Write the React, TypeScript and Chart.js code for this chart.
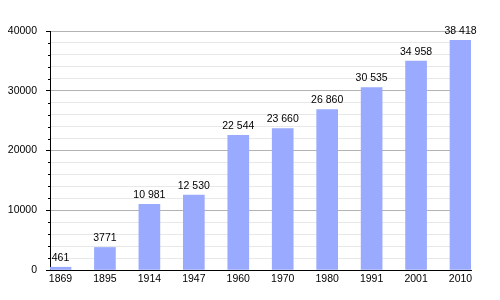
import React, { useEffect, useRef } from "react";
import { Chart, registerables } from "chart.js";

Chart.register(...registerables);

const years = ["1869", "1895", "1914", "1947", "1960", "1970", "1980", "1991", "2001", "2010"];
const population = [461, 3771, 10981, 12530, 22544, 23660, 26860, 30535, 34958, 38418];
const valueLabels = ["461", "3771", "10 981", "12 530", "22 544", "23 660", "26 860", "30 535", "34 958", "38 418"];
const yTicks = [0, 10000, 20000, 30000, 40000];

const FONT = "'Liberation Sans', Arial, sans-serif";

const labelPlugin = {
  id: "valueLabels",
  afterDatasetsDraw(chart: any) {
    const ctx = chart.ctx;
    const meta = chart.getDatasetMeta(0);
    ctx.save();
    ctx.font = `10.5px ${FONT}`;
    ctx.fillStyle = "#000";
    ctx.textAlign = "center";
    ctx.textBaseline = "bottom";
    meta.data.forEach((bar: any, i: number) => {
      ctx.fillText(valueLabels[i], bar.x, bar.y - 4);
    });
    const y = chart.scales.y;
    ctx.strokeStyle = "#000";
    ctx.lineWidth = 1;
    for (let v = 0; v <= 40000; v += 2000) {
      if (v % 10000 === 0) continue;
      const py = Math.round(y.getPixelForValue(v)) + 0.5;
      ctx.beginPath();
      ctx.moveTo(y.right - 2, py);
      ctx.lineTo(y.right, py);
      ctx.stroke();
    }
    ctx.restore();
  },
};

export default function App() {
  const ref = useRef<HTMLCanvasElement>(null);
  useEffect(() => {
    if (!ref.current) return;
    const chart = new Chart(ref.current, {
      type: "bar",
      data: {
        datasets: [
          {
            data: population.map((v, i) => ({ x: i, y: v })),
            backgroundColor: "#99aaff",
            borderWidth: 0,
            barThickness: 21,
          },
        ],
      },
      options: {
        responsive: false,
        animation: false,
        layout: { padding: { left: 0, right: 29, top: 31, bottom: 0 } },
        plugins: { legend: { display: false }, tooltip: { enabled: false } },
        scales: {
          x: {
            type: "linear",
            offset: false,
            min: -0.236,
            max: 9.236,
            afterBuildTicks: (scale: any) => {
              scale.ticks = years.map((_, i) => ({ value: i }));
            },
            afterFit: (scale: any) => {
              scale.height = 30;
            },
            grid: { display: false, drawTicks: false },
            border: { display: true, color: "#000", width: 1 },
            ticks: {
              autoSkip: false,
              maxRotation: 0,
              padding: 3,
              color: "#000",
              font: { family: FONT, size: 10.5 },
              callback: (v: any) => years[v] ?? "",
            },
          },
          y: {
            min: 0,
            max: 40000,
            afterBuildTicks: (scale: any) => {
              const t = [];
              for (let v = 0; v <= 40000; v += 2000) t.push({ value: v });
              scale.ticks = t;
            },
            afterFit: (scale: any) => {
              scale.width = 50;
            },
            grid: {
              color: (c: any) => (c.tick && c.tick.value % 10000 === 0 ? "#b3b3b3" : "#e8e8e8"),
              tickColor: (c: any) => (c.tick && c.tick.value % 10000 === 0 ? "#000" : "rgba(0,0,0,0)"),
              tickLength: 4,
            },
            border: { display: true, color: "#000", width: 1 },
            ticks: {
              autoSkip: false,
              padding: 9,
              color: "#000",
              font: { family: FONT, size: 10.5 },
              callback: (v: any) => (yTicks.includes(v) ? String(v) : ""),
            },
          },
        },
      },
      plugins: [labelPlugin],
    });
    return () => chart.destroy();
  }, []);
  return (
    <div style={{ position: "fixed", left: 0, top: 0, width: 500, height: 300, background: "#fff" }}>
      <canvas ref={ref} width={500} height={300} />
    </div>
  );
}
